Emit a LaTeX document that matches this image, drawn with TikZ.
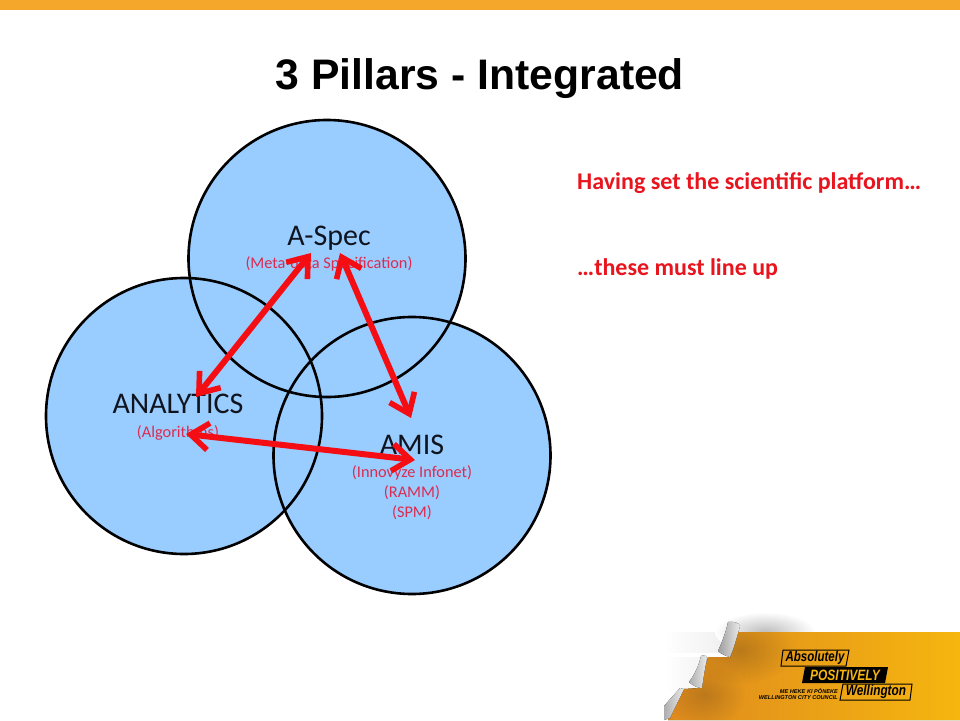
\documentclass[tikz,border=0pt]{standalone}
\usepackage{fontspec}
\setmainfont{Carlito}
\newfontfamily\arialf{Liberation Sans}
\newcommand{\fsz}[1]{\fontsize{#1}{#1}\selectfont}
\usetikzlibrary{arrows.meta,fadings}
\definecolor{pillar}{HTML}{99CCFF}
\definecolor{barorange}{HTML}{F4A72A}
\definecolor{arrowred}{HTML}{F40E14}
\definecolor{subred}{HTML}{DC2B50}
\definecolor{noteRed}{HTML}{E8141E}
\definecolor{inkdark}{HTML}{10141E}
\definecolor{bandleft}{HTML}{DE8A1E}
\definecolor{bandmid}{HTML}{EC9C18}
\definecolor{bandright}{HTML}{F6B60F}
\tikzfading[name=softc, inner color=transparent!45, outer color=transparent!100]
\tikzset{
  pillarfill/.style={fill=pillar,draw=none},
  pillarline/.style={draw=black,line width=2.6pt},
  bigtxt/.style={text=inkdark,font=\fsz{30},inner sep=0pt,anchor=center},
  subtxt/.style={text=subred,font=\fsz{16.3},inner sep=0pt,anchor=center},
  note/.style={text=noteRed,font=\fsz{24}\bfseries,inner sep=0pt,anchor=base west},
  link/.style={draw=arrowred,line width=6pt,{Straight Barb[length=18pt,width=27pt,line width=5.6pt]}-{Straight Barb[length=18pt,width=27pt,line width=5.6pt]}},
  logotxt/.style={inner sep=0pt,anchor=center},
}
\begin{document}
\begin{tikzpicture}[x=1pt,y=-1pt]
\useasboundingbox (0,0) rectangle (960,720);
\fill[white] (0,0) rectangle (960,720);
\fill[barorange] (0,0) rectangle (960,10);
\node[inner sep=0pt,font=\arialf\fsz{42.7}\bfseries,text=black] (title) at (480,79) {3 Pillars - Integrated};
% circles
\coordinate (ca) at (327,258.5);
\coordinate (cb) at (184,416);
\coordinate (cc) at (412,455.5);
\fill[pillarfill] (ca) circle (139);
\fill[pillarfill] (cb) circle (138);
\fill[pillarfill] (cc) circle (139);
\draw[pillarline] (ca) circle (138.5);
\draw[pillarline] (cb) circle (138);
\draw[pillarline] (cc) circle (138.5);
% labels
\node[bigtxt] (aspec) at (329,238) {A-Spec};
\node[subtxt] (meta) at (329,264) {(Meta-data Specification)};
\node[bigtxt] (analytics) at (178,404) {ANALYTICS};
\node[subtxt] (algo) at (178,433) {(Algorithms)};
\node[bigtxt] (amis) at (412,445) {AMIS};
\node[subtxt] (inno) at (412,473) {(Innovyze Infonet)};
\node[subtxt] (ramm) at (412,493) {(RAMM)};
\node[subtxt] (spm) at (412,513) {(SPM)};
% arrows
\coordinate (a1) at (311,253);
\coordinate (a2) at (196,397);
\coordinate (b1) at (340,253);
\coordinate (b2) at (411,418);
\coordinate (c1) at (186,434);
\coordinate (c2) at (415,460);
\draw[link] (a1) -- (a2);
\draw[link] (b1) -- (b2);
\draw[link] (c1) -- (c2);
% notes
\node[note] (n1) at (577,189) {Having set the scientific platform…};
\node[note] (n2) at (577,275) {…these must line up};
% footer
\fill[left color=white,right color=black!7] (664,632) rectangle (735,652);
\fill[left color=white,right color=black!5] (664,657) rectangle (708,690);
\shade[inner color=black!26,outer color=white] (765,632) ellipse (50 and 20);
\fill[left color=bandleft,middle color=bandmid,right color=bandright]
  (736,632) -- (960,632) -- (960,720) -- (668,720) -- (684,689) -- (700,688) -- (708,657) -- (730,657) -- cycle;
\begin{scope}
\clip (736,632) -- (960,632) -- (960,720) -- (668,720) -- (684,689) -- (700,688) -- (708,657) -- (730,657) -- cycle;
\fill[black!60!brown,opacity=.5,path fading=softc] (740,650) ellipse (55 and 34);
\fill[black!60!brown,opacity=.45,path fading=softc] (705,695) ellipse (40 and 32);
\end{scope}
\fill[left color=black!38,right color=white!92!black]
  (728,622) .. controls (734,621) and (739,623) .. (740,626) .. controls (737,636) and (734,648) .. (730,657) .. controls (726,656) and (721,654) .. (718,651) .. controls (722,642) and (726,632) .. (728,622) -- cycle;
\fill[left color=black!32,right color=white!92!black]
  (701,656) .. controls (703,654) and (706,655) .. (707,658) .. controls (705,668) and (703,680) .. (702,688) .. controls (697,688) and (692,685) .. (689,682) .. controls (695,674) and (699,665) .. (701,656) -- cycle;
\fill[left color=black!32,right color=white!92!black]
  (680,688) -- (684,689) -- (670,718) -- (664,720) -- (664,706) -- cycle;
% logo
\draw[black,line width=1pt] (783,650) -- (849,650) -- (846,666) -- (781,666) -- cycle;
\node[logotxt,font=\arialf\fsz{11.5}\bfseries\itshape] (absol) at (815,658) {\scalebox{1}[1.25]{Absolutely}};
\fill[black] (805,667) -- (888,667) -- (885,683) -- (802,683) -- cycle;
\node[logotxt,font=\arialf\fsz{12}\bfseries\itshape,text=bandright] (posit) at (845,675) {\scalebox{1}[1.25]{POSITIVELY}};
\draw[black,line width=1pt] (843,684) -- (912,684) -- (910,700) -- (840,700) -- cycle;
\node[logotxt,font=\arialf\fsz{11.8}\bfseries\itshape] (well) at (876,692) {\scalebox{1}[1.25]{Wellington}};
\node[logotxt,anchor=east,font=\arialf\fsz{5.6}\bfseries\itshape] (heke) at (838,691) {ME HEKE KI PŌNEKE};
\node[logotxt,anchor=east,font=\arialf\fsz{5.6}\bfseries\itshape] (wcc) at (838,698) {WELLINGTON CITY COUNCIL};
\end{tikzpicture}
\end{document}
